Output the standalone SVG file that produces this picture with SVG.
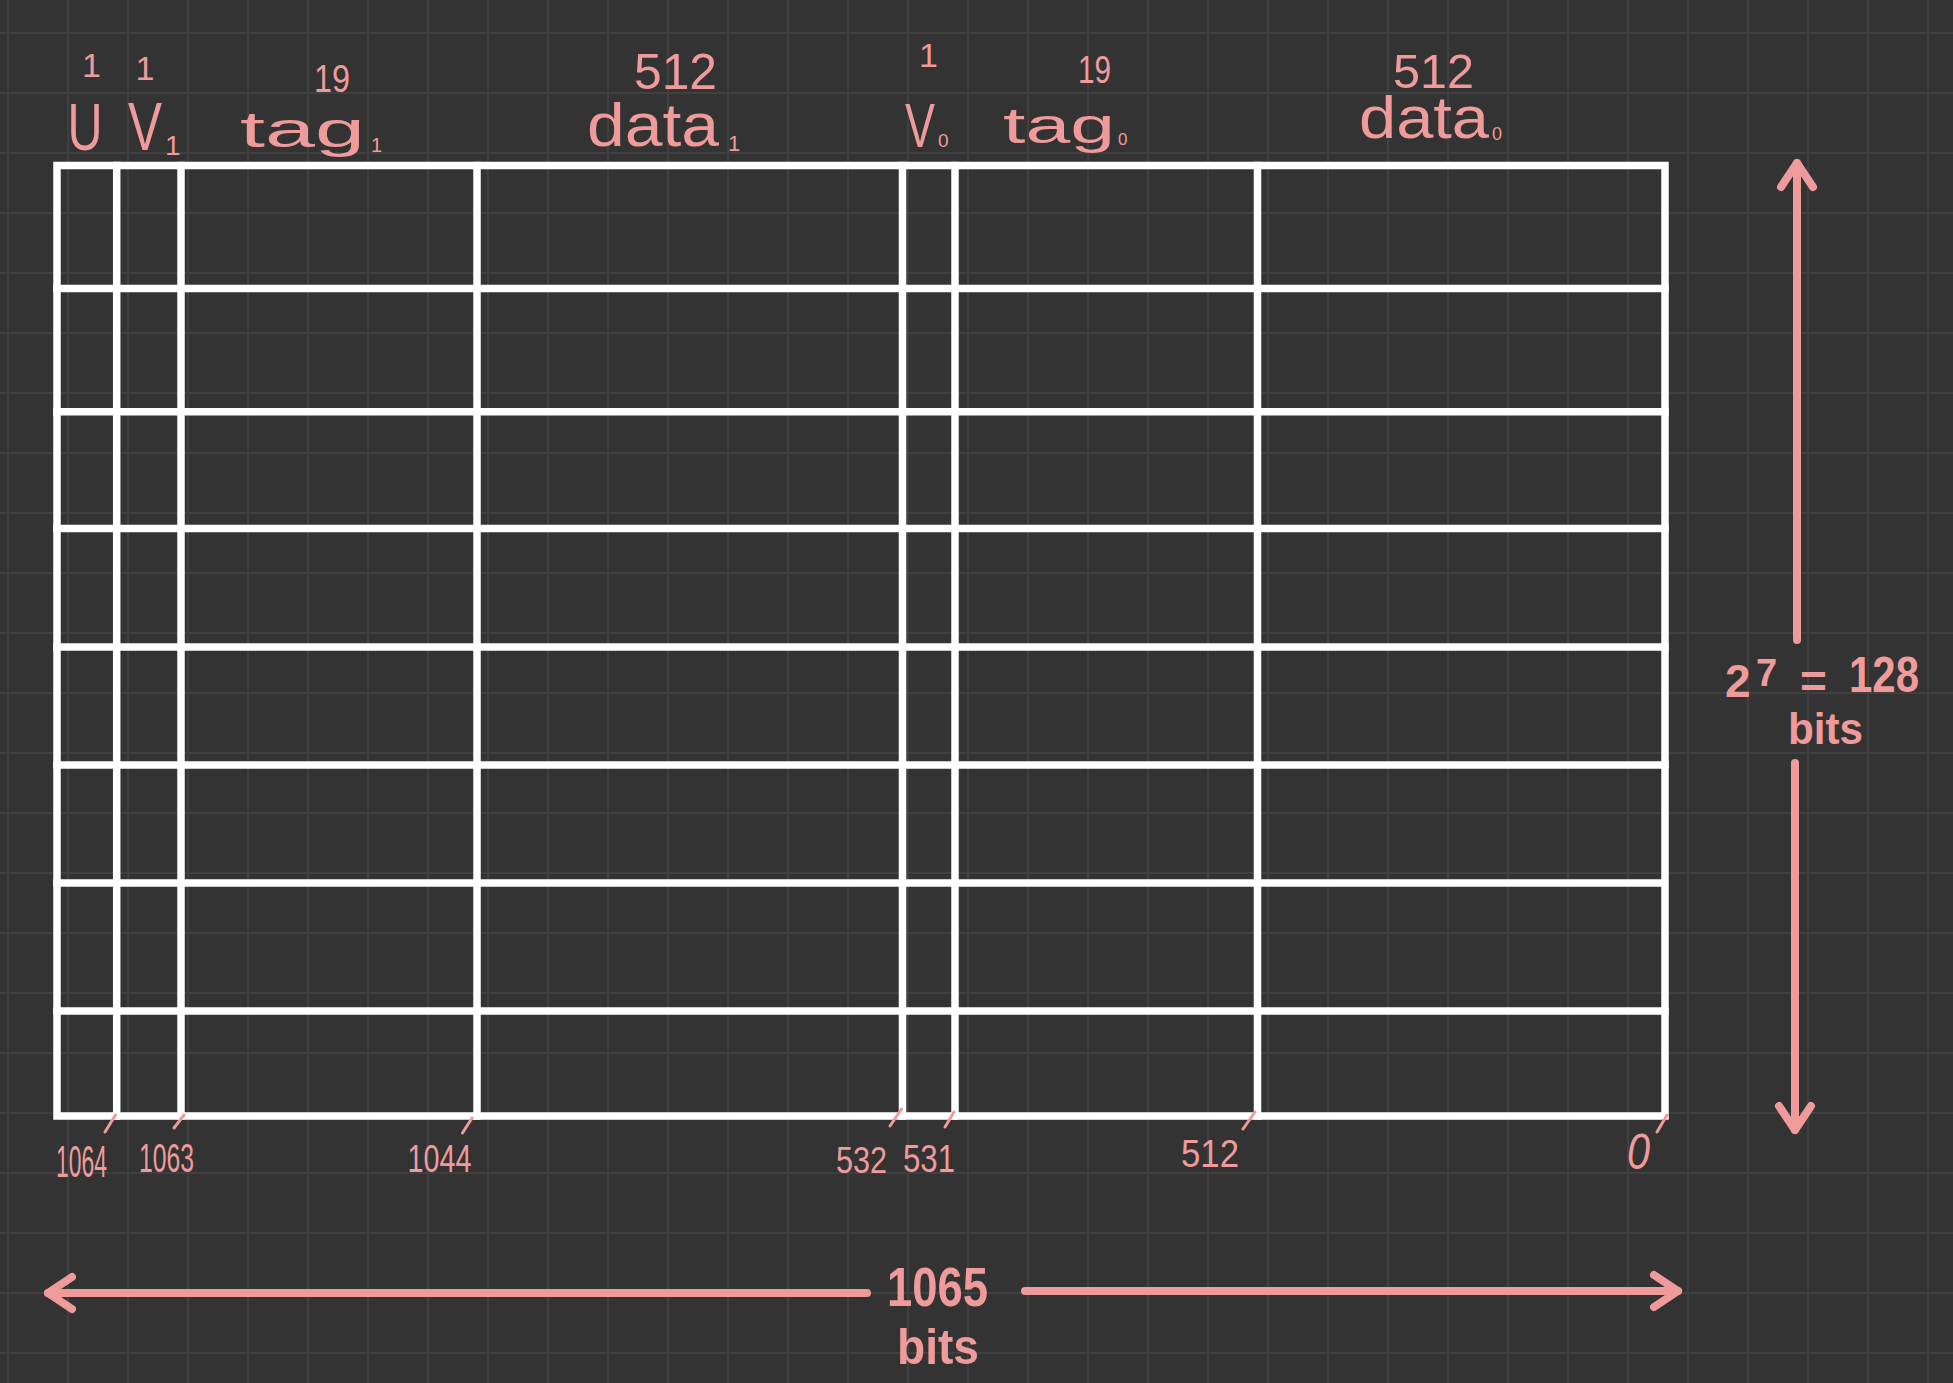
<svg xmlns="http://www.w3.org/2000/svg" width="1953" height="1383" viewBox="0 0 1953 1383">
<style>
.bg{fill:#333333}
.tbl{stroke:#ffffff;stroke-width:7.5;fill:none;stroke-linecap:square}
.pk{fill:#ef9b9b;font-family:"Liberation Sans","DejaVu Sans",sans-serif}
.bold{font-weight:bold}
.tick{stroke:#ef9b9b;stroke-width:3;stroke-linecap:round;fill:none}
.arr{stroke:#ef9b9b;stroke-width:8;stroke-linecap:round;fill:none}
</style>
<defs>
<pattern id="grid" patternUnits="userSpaceOnUse" x="7" y="32" width="60" height="60">
<path d="M0 1 H60 M1 0 V60" stroke="#404040" stroke-width="2" fill="none"/>
</pattern>
<marker id="head" markerUnits="userSpaceOnUse" orient="auto" refX="0" refY="0" markerWidth="60" markerHeight="60" viewBox="-40 -30 60 60" overflow="visible">
<path d="M -24 -16 L 0 0 L -24 16" stroke="#ef9b9b" stroke-width="8" stroke-linecap="round" stroke-linejoin="round" fill="none"/>
</marker>
</defs>
<rect class="bg" x="0" y="0" width="1953" height="1383"/>
<rect x="0" y="0" width="1953" height="1383" fill="url(#grid)"/>

<g id="table">
<rect class="tbl" x="57" y="165.5" width="1608" height="950.5"/>
<path class="tbl" d="M57 288.6 H1665 M57 411.7 H1665 M57 528.4 H1665 M57 647 H1665 M57 765 H1665 M57 883 H1660 M57 1011 H1665"/>
<path class="tbl" d="M116.7 165.5 V1116 M181 165.5 V1116 M477 165.5 V1116 M902.5 165.5 V1116 M955 165.5 V1116 M1257.5 165.5 V1116"/>
</g>

<g id="col-u">
<text class="pk"><tspan x="91.5" y="77" font-size="34" text-anchor="middle">1</tspan><tspan x="67.5" y="150" font-size="67" textLength="35" lengthAdjust="spacingAndGlyphs">U</tspan></text>
</g>
<g id="col-v1">
<text class="pk"><tspan x="145" y="80" font-size="34" text-anchor="middle">1</tspan><tspan x="128" y="150" font-size="68" textLength="34" lengthAdjust="spacingAndGlyphs">V</tspan><tspan x="165" y="155" font-size="28">1</tspan></text>
</g>
<g id="col-tag1">
<text class="pk"><tspan x="314" y="92" font-size="38" textLength="36" lengthAdjust="spacingAndGlyphs">19</tspan><tspan x="240" y="147" font-size="50" textLength="125" lengthAdjust="spacingAndGlyphs">tag</tspan><tspan x="371" y="152" font-size="20">1</tspan></text>
</g>
<g id="col-data1">
<text class="pk"><tspan x="634" y="89" font-size="50" textLength="83" lengthAdjust="spacingAndGlyphs">512</tspan><tspan x="587" y="146" font-size="62" textLength="132" lengthAdjust="spacingAndGlyphs">data</tspan><tspan x="728" y="151" font-size="22">1</tspan></text>
</g>
<g id="col-v0">
<text class="pk"><tspan x="928.5" y="67" font-size="34" text-anchor="middle">1</tspan><tspan x="905" y="147" font-size="63" textLength="30" lengthAdjust="spacingAndGlyphs">V</tspan><tspan x="938" y="147" font-size="19">0</tspan></text>
</g>
<g id="col-tag0">
<text class="pk"><tspan x="1078" y="83" font-size="39" textLength="33" lengthAdjust="spacingAndGlyphs">19</tspan><tspan x="1003" y="143" font-size="50" textLength="112" lengthAdjust="spacingAndGlyphs">tag</tspan><tspan x="1118" y="145" font-size="17">0</tspan></text>
</g>
<g id="col-data0">
<text class="pk"><tspan x="1393" y="88" font-size="48" textLength="81" lengthAdjust="spacingAndGlyphs">512</tspan><tspan x="1359" y="138" font-size="60" textLength="130" lengthAdjust="spacingAndGlyphs">data</tspan><tspan x="1492" y="140" font-size="18">0</tspan></text>
</g>

<g id="bit-indices">
<path class="tick" d="M105 1132 L115.5 1115 M174 1128 L184 1115 M462.5 1133 L472 1118 M890 1126 L901.5 1109 M945 1127 L954 1112 M1243 1129 L1255 1112 M1657 1132 L1667 1115"/>
<text class="pk" x="56" y="1177" font-size="44" textLength="51" lengthAdjust="spacingAndGlyphs">1064</text>
<text class="pk" x="139" y="1172" font-size="40" textLength="55" lengthAdjust="spacingAndGlyphs">1063</text>
<text class="pk" x="407.5" y="1172" font-size="38" textLength="64" lengthAdjust="spacingAndGlyphs">1044</text>
<text class="pk" x="836" y="1173" font-size="37" textLength="51" lengthAdjust="spacingAndGlyphs">532</text>
<text class="pk" x="903" y="1172" font-size="38" textLength="52" lengthAdjust="spacingAndGlyphs">531</text>
<text class="pk" x="1181" y="1167" font-size="38" textLength="58" lengthAdjust="spacingAndGlyphs">512</text>
<text class="pk" x="1627" y="1169" font-size="50" font-style="italic" textLength="23" lengthAdjust="spacingAndGlyphs">0</text>
</g>

<g id="connectors">
<path class="arr" d="M867 1293 L48 1293" marker-end="url(#head)"/>
<path class="arr" d="M1025 1291 L1678 1291" marker-end="url(#head)"/>
<path class="arr" d="M1797 640 L1797 163" marker-end="url(#head)"/>
<path class="arr" d="M1795 763 L1795 1130" marker-end="url(#head)"/>
</g>

<g id="width-label">
<text class="pk bold"><tspan x="887" y="1306" font-size="56" textLength="101" lengthAdjust="spacingAndGlyphs">1065</tspan><tspan x="897" y="1364" font-size="50" textLength="82" lengthAdjust="spacingAndGlyphs">bits</tspan></text>
</g>

<g id="height-label">
<text class="pk bold" font-size="46"><tspan x="1725" y="697">2</tspan><tspan x="1756" y="686" font-size="38">7</tspan><tspan x="1800" y="697">=</tspan><tspan x="1849" y="692" font-size="50" textLength="70" lengthAdjust="spacingAndGlyphs">128</tspan><tspan x="1788" y="744" font-size="44" textLength="75" lengthAdjust="spacingAndGlyphs">bits</tspan></text>
</g>
</svg>
